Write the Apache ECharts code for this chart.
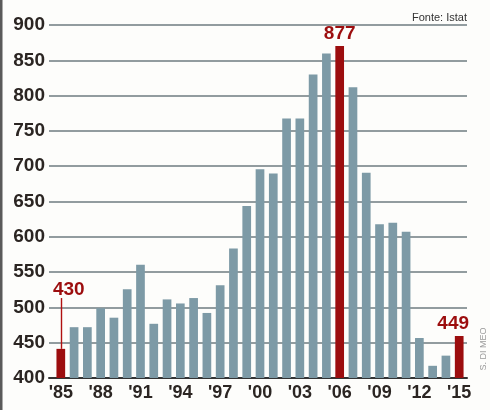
<!DOCTYPE html>
<html><head><meta charset="utf-8">
<script src="https://cdn.jsdelivr.net/npm/echarts@6/dist/echarts.min.js"></script>
<style>html,body{margin:0;padding:0;background:#fdfdfb}#c{width:490px;height:410px}</style>
</head><body><div id="c"></div>
<script>
// Years (categories)
const years = ["'85","'86","'87","'88","'89","'90","'91","'92","'93","'94","'95","'96","'97","'98","'99",
               "'00","'01","'02","'03","'04","'05","'06","'07","'08","'09","'10","'11","'12","'13","'14","'15"];
// Values (thousands)
const values = [430,462,462,490,476,518,554,467,503,497,505,483,524,578,641,
                695,689,770,770,835,866,877,816,690,614,616,603,446,405,420,449];
// Years whose bar is highlighted and labelled
const labelledYears = ["'85","'06","'15"];
// Tick labels
const yTicks = [400,450,500,550,600,650,700,750,800,850,900];
const xTickYears = ["'85","'88","'91","'94","'97","'00","'03","'06","'09","'12","'15"];
const sourceText = "Fonte: Istat";
const creditText = "S. DI MEO";

const BLUE = '#7d9aa6', RED = '#9c0d0e';
const idx85 = years.indexOf("'85");
const labelOffsets = {"'85":[8,-47], "'06":[0,0], "'15":[-6,0]};

const chart = echarts.init(document.getElementById('c'), null, {renderer:'canvas'});
chart.setOption({
  backgroundColor:'#fdfdfb',
  animation:false,
  grid:{left:49, right:23, top:25, bottom:32, containLabel:false},
  xAxis:{
    type:'value', min:-0.889, max:30.587,
    splitLine:{show:false},
    axisLine:{show:true, lineStyle:{color:'#333', width:2}},
    axisTick:{show:false},
    axisLabel:{
      customValues: xTickYears.map(y=>years.indexOf(y)),
      formatter: v=>years[Math.round(v)],
      color:'#2b2522', fontWeight:'bold', fontSize:18,
      fontFamily:"'Liberation Sans Narrow','Arial Narrow','Liberation Sans',Arial,sans-serif",
      margin:6
    }
  },
  yAxis:[{
    type:'value', min:yTicks[0], max:yTicks[yTicks.length-1], interval:50,
    axisLine:{show:false}, axisTick:{show:false},
    splitLine:{show:true, lineStyle:{color:'#6e7b80', width:1.5}},
    axisLabel:{color:'#2b2522', fontWeight:'bold', fontSize:19, margin:4,
      fontFamily:"'Liberation Sans',Arial,sans-serif"}
  },{
    // scale used by the bars in the original graphic
    type:'value', min:387, max:908, show:false, splitLine:{show:false}
  }],
  series:[{
    type:'bar', yAxisIndex:1, barWidth:8.7,
    data: values.map((v,i)=>{
      const hl = labelledYears.includes(years[i]);
      return {
        value:[i,v],
        itemStyle:{color: hl?RED:BLUE},
        label:{show:hl, position:'top', distance:3, offset: hl?labelOffsets[years[i]]:[0,0]}
      };
    }),
    label:{formatter:p=>String(p.value[1]), color:RED, fontWeight:'bold', fontSize:19,
      fontFamily:"'Liberation Sans',Arial,sans-serif"},
    markLine:{
      silent:true, symbol:'none', label:{show:false},
      lineStyle:{color:'#b01010', width:1.4, type:'solid', opacity:1},
      emphasis:{disabled:true},
      data:[[{coord:[idx85, values[idx85]]},{coord:[idx85, values[idx85]+75]}]]
    }
  }],
  graphic:[
    {type:'rect', left:0, top:0, shape:{width:2.5, height:410}, style:{fill:'#5a5a5a'}},
    {type:'text', right:23, top:12, style:{text:sourceText, fill:'#333', fontSize:11,
      fontFamily:"'Liberation Sans Narrow','Arial Narrow','Liberation Sans',Arial,sans-serif"}},
    {type:'text', x:484, y:349, rotation:Math.PI/2, style:{text:creditText, fill:'#9a9a9a', fontSize:9,
      align:'center', verticalAlign:'middle',
      fontFamily:"'Liberation Sans Narrow','Liberation Sans',Arial,sans-serif"}}
  ]
});
</script></body></html>
